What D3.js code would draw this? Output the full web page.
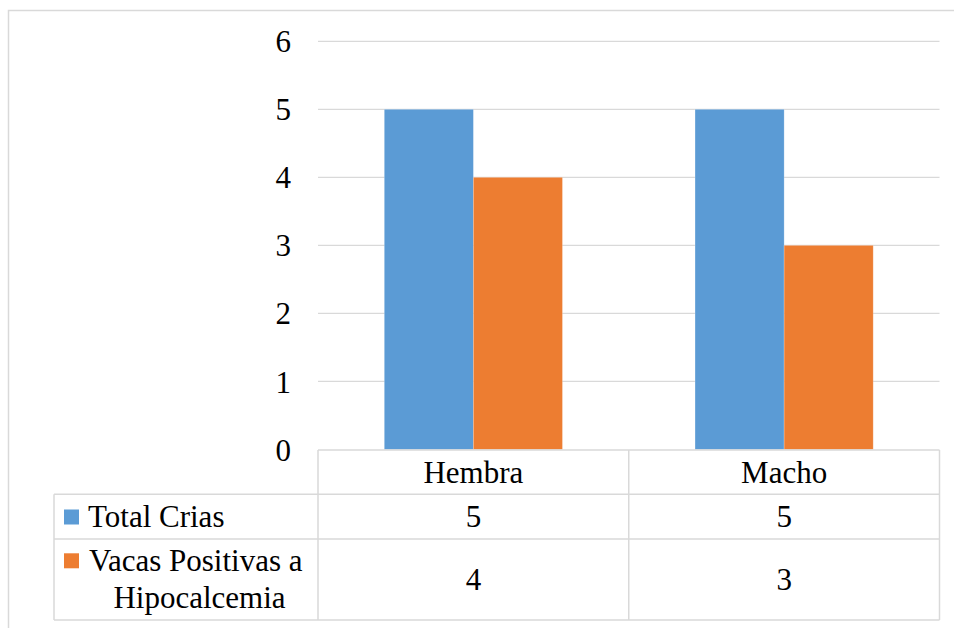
<!DOCTYPE html>
<html>
<head>
<meta charset="utf-8">
<script src="https://cdn.jsdelivr.net/npm/d3@7"></script>
<style>
  html, body { margin: 0; padding: 0; background: #fff; }
  svg { display: block; }
  svg text { font-family: "Times New Roman", "Liberation Serif", Tinos, "DejaVu Serif", serif !important; fill: #000; }
</style>
</head>
<body>
<svg id="chart" width="954" height="628"></svg>
<script>
const categories = ["Hembra", "Macho"];
const seriesNames = ["Total Crias", "Vacas Positivas a Hipocalcemia"];
const seriesLabelLines = [["Total Crias"], ["Vacas Positivas a", "Hipocalcemia"]];
const totalCrias = [5, 5];
const vacasPositivas = [4, 3];
const yTicks = [0, 1, 2, 3, 4, 5, 6];
const colors = ["#5B9BD5", "#ED7D31"];

const series = [totalCrias, vacasPositivas];
const svg = d3.select("#chart");
const gridColor = "#D9D9D9";
const fontSize = 31;
const FONT = "'Times New Roman', 'Liberation Serif', Tinos, 'DejaVu Serif', serif";

// outer chart border (extends beyond right/bottom edges)
svg.append("rect")
  .attr("x", 8.5).attr("y", 10.5)
  .attr("width", 1000).attr("height", 700)
  .attr("fill", "none").attr("stroke", gridColor).attr("stroke-width", 1.5);

const plotLeft = 318, plotRight = 939.5, plotTop = 41.3, plotBottom = 449.5;

const x = d3.scaleBand().domain(categories).range([plotLeft, plotRight]).paddingInner(0).paddingOuter(0);
const y = d3.scaleLinear().domain([0, 6]).range([plotBottom, plotTop]);

// gridlines
svg.append("g").selectAll("line").data(yTicks.filter(d => d > 0)).join("line")
  .attr("x1", plotLeft).attr("x2", plotRight)
  .attr("y1", d => y(d)).attr("y2", d => y(d))
  .attr("stroke", gridColor).attr("stroke-width", 1.3);

// y axis labels
const yAxis = d3.axisLeft(y).tickValues(yTicks).tickSize(0).tickPadding(0).tickFormat(d3.format("d"));
const yg = svg.append("g").attr("transform", `translate(291,0)`).call(yAxis);
yg.attr("font-family", FONT).attr("font-size", fontSize);
yg.select(".domain").remove();
yg.selectAll("text")
  .attr("font-size", fontSize)
  .attr("font-family", FONT)
  .attr("fill", "#000")
  .attr("dy", "0.34em");

// bars
const barGroupWidth = x.bandwidth() * 178 / 310.5;
const xs = d3.scaleBand().domain(d3.range(series.length)).range([0, barGroupWidth]).padding(0);
const gBars = svg.append("g");
series.forEach((vals, si) => {
  gBars.selectAll(null).data(categories).join("rect")
    .attr("x", (c) => x(c) + (x.bandwidth() - barGroupWidth) / 2 + xs(si))
    .attr("width", xs.bandwidth())
    .attr("y", (c, i) => y(vals[i]))
    .attr("height", (c, i) => y(0) - y(vals[i]))
    .attr("fill", colors[si])
    .attr("stroke", "rgba(255,255,255,0.25)")
    .attr("stroke-width", 0.8);
});

// data table
const tableLeft = 54, headerTop = 450, row1Top = 494.3, row2Top = 539, tableBottom = 620;
const rowTops = [row1Top, row2Top];
const rowBottoms = [row2Top, tableBottom];
const gT = svg.append("g").attr("stroke", gridColor).attr("stroke-width", 1.5).attr("fill", "none");
gT.append("line").attr("x1", plotLeft).attr("x2", plotRight).attr("y1", headerTop).attr("y2", headerTop);
[row1Top, row2Top, tableBottom].forEach(yy => {
  gT.append("line").attr("x1", tableLeft).attr("x2", plotRight).attr("y1", yy).attr("y2", yy);
});
gT.append("line").attr("x1", tableLeft).attr("x2", tableLeft).attr("y1", row1Top).attr("y2", tableBottom);
categories.forEach(c => {
  gT.append("line").attr("x1", x(c)).attr("x2", x(c)).attr("y1", headerTop).attr("y2", tableBottom);
});
gT.append("line").attr("x1", plotRight).attr("x2", plotRight).attr("y1", headerTop).attr("y2", tableBottom);

const gText = svg.append("g").attr("font-family", FONT).attr("font-size", fontSize).attr("fill", "#000");

// header labels
gText.append("g").selectAll("text").data(categories).join("text")
  .attr("x", c => x(c) + x.bandwidth() / 2)
  .attr("y", 483.3)
  .attr("text-anchor", "middle")
  .text(c => c);

// values
series.forEach((vals, si) => {
  gText.append("g").selectAll("text").data(categories).join("text")
    .attr("x", c => x(c) + x.bandwidth() / 2)
    .attr("y", (rowTops[si] + rowBottoms[si]) / 2 + 10.6)
    .attr("text-anchor", "middle")
    .text((c, i) => vals[i]);
});

// legend cells
const leg = gText.append("g");
leg.append("rect").attr("x", 64).attr("y", 509.5).attr("width", 15).attr("height", 15).attr("fill", colors[0]);
leg.append("text").attr("x", 88).attr("y", 526.7).text(seriesLabelLines[0][0]);
leg.append("rect").attr("x", 64).attr("y", 553.3).attr("width", 15).attr("height", 15).attr("fill", colors[1]);
leg.append("text").attr("x", 89).attr("y", 570.7).text(seriesLabelLines[1][0]);
leg.append("text").attr("x", 199.5).attr("y", 608.3).attr("text-anchor", "middle").text(seriesLabelLines[1][1]);
</script>
</body>
</html>
